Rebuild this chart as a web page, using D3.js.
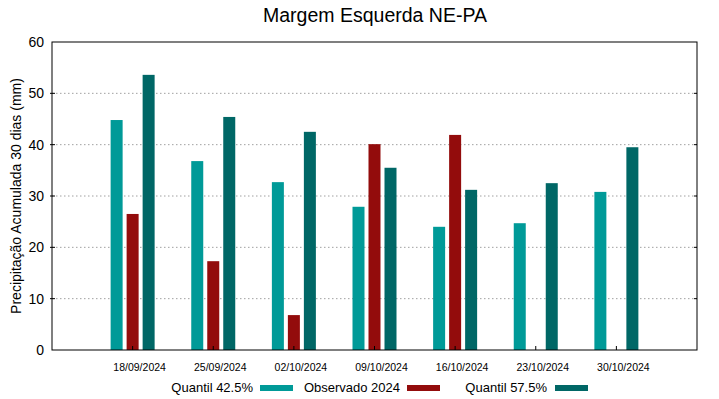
<!DOCTYPE html>
<html><head><meta charset="utf-8">
<script src="https://cdn.jsdelivr.net/npm/d3@7"></script>
<style>body{margin:0;background:#fff}svg{display:block}text{font-family:"Liberation Sans",Arial,sans-serif}</style>
</head><body><svg id="c" width="719" height="399"></svg>
<script>
const categories = ["18/09/2024","25/09/2024","02/10/2024","09/10/2024","16/10/2024","23/10/2024","30/10/2024"];
const q425 = [44.8, 36.8, 32.7, 27.9, 24.0, 24.7, 30.8];
const obs2024 = [26.5, 17.3, 6.8, 40.1, 41.9, null, null];
const q575 = [53.6, 45.4, 42.5, 35.5, 31.2, 32.5, 39.5];
const yTicks = [0,10,20,30,40,50,60];
const seriesNames = ["Quantil 42.5%","Observado 2024","Quantil 57.5%"];
const colors = ["#009a98","#930c0c","#006766"];

const svg = d3.select("#c");
const L=52,R=697,T=42,B=350;
const x = d3.scaleLinear().domain([0,8]).range([L,R]);
const y = d3.scaleLinear().domain([0,60]).range([B,T]);
const inner = yTicks.filter(d=>d>0&&d<60);

// grid
svg.append("g").selectAll("line").data(inner).join("line")
  .attr("x1",L).attr("x2",R).attr("y1",d=>y(d)).attr("y2",d=>y(d))
  .attr("stroke","#a0a0a0").attr("stroke-width",1).attr("stroke-dasharray","1.5,2.5");

// bars
const bw=12, off=16;
const series=[q425,obs2024,q575];
series.forEach((s,si)=>{
  svg.append("g").selectAll("rect").data(s.map((v,i)=>({v,i}))).join("rect")
    .filter(d=>d.v!=null)
    .attr("x",d=>x(d.i+1)+(si-1)*off-bw/2)
    .attr("width",bw)
    .attr("y",d=>y(d.v)).attr("height",d=>y(0)-y(d.v))
    .attr("fill",colors[si]);
});

// ticks
svg.append("g").selectAll("line").data(categories).join("line")
  .attr("x1",(d,i)=>x(i+1)).attr("x2",(d,i)=>x(i+1)).attr("y1",B).attr("y2",B-4)
  .attr("stroke","#000");
svg.append("g").selectAll("line").data(inner).join("line")
  .attr("x1",L-2).attr("x2",L+3).attr("y1",d=>y(d)).attr("y2",d=>y(d)).attr("stroke","#000");
svg.append("g").selectAll("line").data(inner).join("line")
  .attr("x1",R).attr("x2",R-3).attr("y1",d=>y(d)).attr("y2",d=>y(d)).attr("stroke","#000");

// frame
svg.append("rect").attr("x",L).attr("y",T).attr("width",R-L).attr("height",B-T)
  .attr("fill","none").attr("stroke","#000").attr("stroke-width",1);

// y labels
svg.append("g").selectAll("text").data(yTicks).join("text")
  .attr("x",L-8).attr("y",d=>y(d)+5).attr("text-anchor","end")
  .attr("font-size",14).text(d=>d);
// x labels
svg.append("g").selectAll("text").data(categories).join("text")
  .attr("x",(d,i)=>x(i+1)+7).attr("y",371).attr("text-anchor","middle")
  .attr("font-size",10.5).text(d=>d);

// title
svg.append("text").attr("x",375).attr("y",22).attr("text-anchor","middle")
  .attr("font-size",19.5).text("Margem Esquerda NE-PA");
// y axis title
svg.append("text").attr("transform","translate(21,196) rotate(-90)").attr("text-anchor","middle")
  .attr("font-size",14).text("Precipitação Acumulada 30 dias (mm)");

// legend
const legTextEnd=[253,400,547];
const legSw=[260,407,555];
seriesNames.forEach((n,i)=>{
  svg.append("text").attr("x",legTextEnd[i]).attr("y",392).attr("text-anchor","end")
    .attr("font-size",13).text(n);
  svg.append("rect").attr("x",legSw[i]).attr("y",385).attr("width",33).attr("height",6).attr("fill",colors[i]);
});
</script></body></html>
